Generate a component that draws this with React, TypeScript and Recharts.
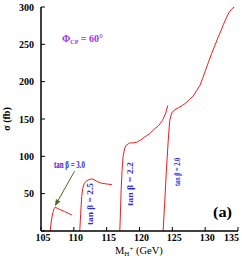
import { LineChart, Line, XAxis, YAxis, ReferenceLine } from "recharts";

const xTicks = [105, 110, 115, 120, 125, 130, 135];
const yTicks = [0, 50, 100, 150, 200, 250, 300];

// tan beta = 3.0
const massTb30 = [106.4, 106.55, 106.7, 106.85, 107.0, 107.15, 107.8, 108.6, 109.7];
const sigmaTb30 = [0, 12, 20, 26, 30, 32, 29, 26, 21.5];

// tan beta = 2.5
const massTb25 = [110.9, 111.0, 111.1, 111.2, 111.35, 111.6, 112.0, 112.5, 112.9, 113.5, 114.2, 115.0, 115.8];
const sigmaTb25 = [0, 15, 32, 46, 57, 64, 67.5, 69.5, 69.5, 66.5, 64, 63, 62];

// tan beta = 2.2
const massTb22 = [117.0, 117.1, 117.2, 117.35, 117.5, 117.75, 118.0, 118.5, 119.0, 119.6, 120.2, 120.8, 121.5, 122.2, 122.9, 123.5, 124.0, 124.3];
const sigmaTb22 = [0, 25, 55, 82, 100, 111, 115, 118, 118, 119, 122, 126, 130, 136, 141, 148, 158, 168];

// tan beta = 2.0
const massTb20 = [123.6, 123.85, 124.1, 124.35, 124.6, 124.9, 125.3, 125.9, 126.5, 127.0, 127.6, 128.2, 128.7, 129.2, 129.6, 130.0, 130.5, 131.0, 131.5, 132.0, 132.4, 132.8, 133.2, 133.6, 134.0, 134.4, 134.8];
const sigmaTb20 = [0, 40, 82, 118, 148, 158, 162, 165, 168, 171, 176, 181, 188, 195, 204, 214, 226, 238, 249, 260, 268, 277, 285, 292, 297, 300, 302];

// arrow pointing at the tan beta = 3.0 curve
const arrowFrom = { x: 110.1, y: 80 };
const arrowTo = { x: 107.1, y: 33 };

const toPoints = (m: number[], s: number[]) => m.map((x, i) => ({ m: x, sigma: s[i] }));

const curves = [
  { name: "tb30", points: toPoints(massTb30, sigmaTb30) },
  { name: "tb25", points: toPoints(massTb25, sigmaTb25) },
  { name: "tb22", points: toPoints(massTb22, sigmaTb22) },
  { name: "tb20", points: toPoints(massTb20, sigmaTb20) }
];

const serif = "'Liberation Serif', 'DejaVu Serif', serif";
const blue = "#2b2bdc";

function Arrow(props: any) {
  const { x1, y1, x2, y2 } = props;
  const a = Math.atan2(y2 - y1, x2 - x1);
  const len = 7;
  const w = 2.6;
  const bx = x2 - len * Math.cos(a);
  const by = y2 - len * Math.sin(a);
  const px = -Math.sin(a) * w;
  const py = Math.cos(a) * w;
  return (
    <g>
      <line x1={x1} y1={y1} x2={bx} y2={by} stroke="#4f6b22" strokeWidth={1} />
      <polygon points={`${x2},${y2} ${bx + px},${by + py} ${bx - px},${by - py}`} fill="#4f6b22" />
    </g>
  );
}

// bottom tick labels; the last one is pulled in so it stays inside the frame
function MassTick(props: any) {
  const { x, y, payload } = props;
  const last = payload.value === xTicks[xTicks.length - 1];
  return (
    <text
      x={last ? x + 1 : x + 2}
      y={y}
      dy="0.71em"
      textAnchor={last ? "end" : "middle"}
      fill="#000"
      fontSize={10}
      fontWeight="bold"
      fontFamily={serif}
    >
      {payload.value}
    </text>
  );
}

export default function App() {
  return (
    <div style={{ position: "absolute", left: 0, top: 0, width: 242, height: 259, background: "#fff" }}>
      <LineChart width={242} height={259} margin={{ top: 7, right: 4, bottom: 0, left: 0 }}>
        <XAxis
          dataKey="m"
          type="number"
          domain={[105, 135]}
          ticks={xTicks}
          interval={0}
          allowDataOverflow
          height={28}
          tickSize={-4}
          tickMargin={6.5}
          axisLine={{ stroke: "#000", strokeWidth: 1.5 }}
          tickLine={{ stroke: "#000" }}
          tick={MassTick}
        />
        <XAxis
          xAxisId="top"
          orientation="top"
          type="number"
          domain={[105, 135]}
          ticks={xTicks}
          interval={0}
          height={0}
          tickSize={-4}
          tickFormatter={() => ""}
          axisLine={{ stroke: "#000", strokeWidth: 1.5 }}
          tickLine={{ stroke: "#000" }}
        />
        <YAxis
          type="number"
          domain={[0, 300]}
          ticks={yTicks}
          interval={0}
          allowDataOverflow
          width={41}
          tickSize={-4}
          tickMargin={11}
          tickFormatter={(v: number) => (v === 0 ? "" : String(v))}
          axisLine={{ stroke: "#000", strokeWidth: 1.5 }}
          tickLine={{ stroke: "#000" }}
          tick={{ fill: "#000", fontSize: 10, fontWeight: "bold", fontFamily: serif }}
        />
        <YAxis
          yAxisId="right"
          orientation="right"
          type="number"
          domain={[0, 300]}
          ticks={yTicks}
          interval={0}
          width={0}
          tickSize={-4}
          tickFormatter={() => ""}
          axisLine={{ stroke: "#000", strokeWidth: 1.5 }}
          tickLine={{ stroke: "#000" }}
        />
        {curves.map((c) => (
          <Line
            key={c.name}
            data={c.points}
            dataKey="sigma"
            type="linear"
            stroke="#ee1c1c"
            strokeWidth={1}
            dot={false}
            isAnimationActive={false}
          />
        ))}
        <ReferenceLine segment={[arrowFrom, arrowTo]} stroke="#4f6b22" shape={Arrow} />

        <text x={62} y={41.5} fill="#a033ee" fontFamily={serif} fontWeight="bold" fontSize={10}>
          Φ<tspan fontSize={6} dy={2}>CP</tspan>
          <tspan dy={-2}> = 60°</tspan>
        </text>
        <text x={54} y={167.5} fill={blue} fontFamily={serif} fontWeight="bold" fontSize={10} textLength={31} lengthAdjust="spacingAndGlyphs">
          tan β = 3.0
        </text>
        <text transform="translate(93,204) rotate(-90)" textAnchor="middle" fill={blue} fontFamily={serif} fontWeight="bold" fontSize={9} textLength={42} lengthAdjust="spacingAndGlyphs">
          tan β = 2.5
        </text>
        <text transform="translate(132.5,184) rotate(-90)" textAnchor="middle" fill={blue} fontFamily={serif} fontWeight="bold" fontSize={9} textLength={44} lengthAdjust="spacingAndGlyphs">
          tan β = 2.2
        </text>
        <text transform="translate(179.5,172) rotate(-90)" textAnchor="middle" fill={blue} fontFamily={serif} fontWeight="bold" fontSize={9} textLength={28} lengthAdjust="spacingAndGlyphs">
          tan β = 2.0
        </text>
        <text x={213} y={217} fill="#000" fontFamily={serif} fontWeight="bold" fontSize={15} textLength={19} lengthAdjust="spacingAndGlyphs">
          (a)
        </text>
        <text transform="translate(9.5,119) rotate(-90)" textAnchor="middle" fill="#000" fontFamily={serif} fontWeight="bold" fontSize={10}>
          σ (fb)
        </text>
        <text x={115} y={254} fill="#000" fontFamily={serif} fontSize={10.5}>
          M<tspan fontSize={7} dy={2}>H</tspan>
          <tspan fontSize={7} dy={-5}>+</tspan>
          <tspan dy={3}> (GeV)</tspan>
        </text>
      </LineChart>
    </div>
  );
}
